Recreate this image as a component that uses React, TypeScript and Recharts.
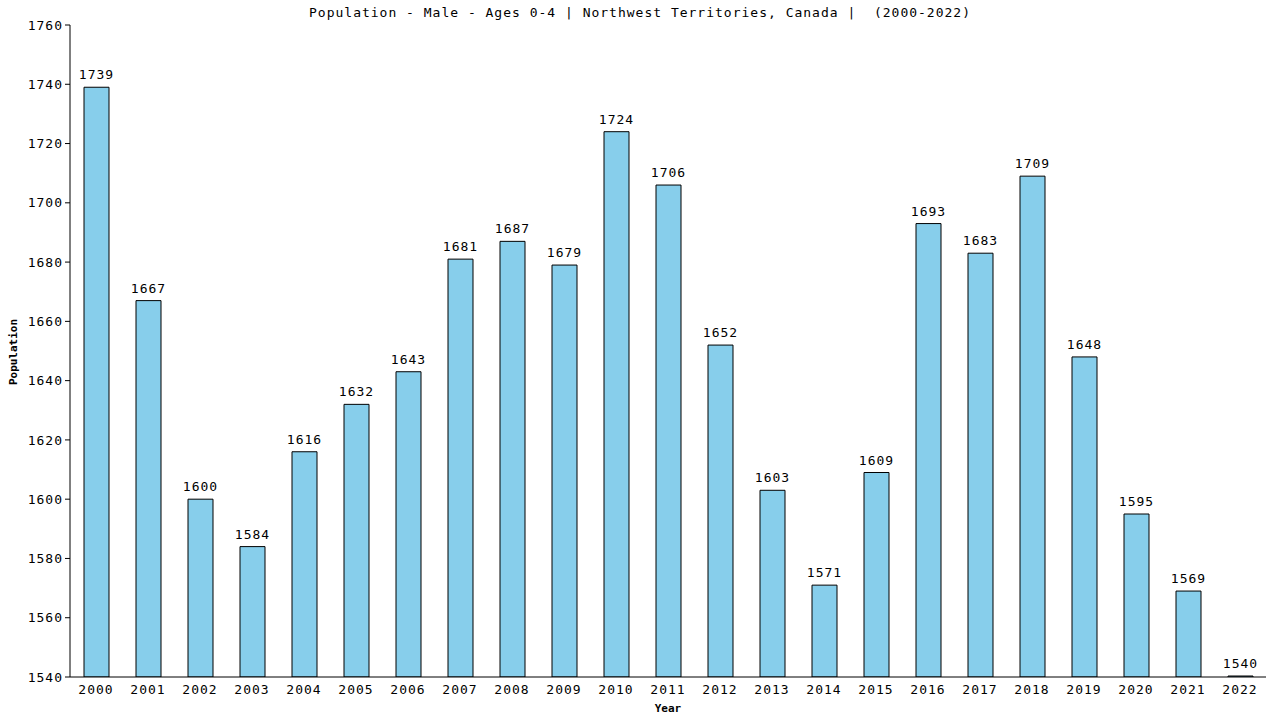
import React from "react";
import {
  BarChart,
  Bar,
  XAxis,
  YAxis,
  LabelList,
} from "recharts";

const YEARS = [
  "2000", "2001", "2002", "2003", "2004", "2005", "2006", "2007", "2008", "2009", "2010", "2011",
  "2012", "2013", "2014", "2015", "2016", "2017", "2018", "2019", "2020", "2021", "2022",
];

const POPULATION = [
  1739, 1667, 1600, 1584, 1616, 1632, 1643, 1681, 1687, 1679, 1724, 1706,
  1652, 1603, 1571, 1609, 1693, 1683, 1709, 1648, 1595, 1569, 1540,
];

const Y_TICKS = [1540, 1560, 1580, 1600, 1620, 1640, 1660, 1680, 1700, 1720, 1740, 1760];

const FONT = "'DejaVu Sans Mono', monospace";

export default function App() {
  const data = YEARS.map((year, i) => ({ year, value: POPULATION[i] }));

  return (
    <div
      style={{
        position: "absolute",
        top: 0,
        left: 0,
        width: 1280,
        height: 720,
        background: "#fff",
        fontFamily: FONT,
      }}
    >
      <div
        style={{
          position: "absolute",
          top: 5,
          left: 0,
          width: 1280,
          textAlign: "center",
          fontSize: 13,
          letterSpacing: 1,
          whiteSpace: "pre",
        }}
      >
        {"Population - Male - Ages 0-4 | Northwest Territories, Canada |  (2000-2022)"}
      </div>
      <div
        style={{
          position: "absolute",
          left: 13,
          top: 352,
          transform: "translate(-50%, -50%) rotate(-90deg)",
          fontSize: 11,
          fontWeight: "bold",
        }}
      >
        Population
      </div>
      <div
        style={{
          position: "absolute",
          top: 702,
          left: 0,
          width: 1336,
          textAlign: "center",
          fontSize: 11,
          fontWeight: "bold",
        }}
      >
        Year
      </div>
      <BarChart
        width={1280}
        height={720}
        data={data}
        margin={{ top: 25, right: 14, left: 8, bottom: 13 }}
        style={{ position: "absolute", top: 0, left: 0 }}
      >
        <XAxis
          dataKey="year"
          tickLine={false}
          axisLine={{ stroke: "#000" }}
          height={30}
          tick={{ fill: "#000", fontSize: 13, fontFamily: FONT, letterSpacing: 1 }}
          interval={0}
        />
        <YAxis
          domain={[1540, 1760]}
          ticks={Y_TICKS}
          allowDataOverflow
          width={62}
          tickSize={5}
          tickLine={{ stroke: "#000" }}
          axisLine={{ stroke: "#000" }}
          tick={{ fill: "#000", fontSize: 13, fontFamily: FONT, letterSpacing: 1 }}
        />
        <YAxis
          yAxisId="right"
          orientation="right"
          domain={[1540, 1760]}
          width={0}
          tick={false}
          tickLine={false}
          axisLine={{ stroke: "#000" }}
        />
        <Bar
          dataKey="value"
          fill="#87CEEB"
          stroke="#000"
          strokeWidth={1}
          barSize={25}
          minPointSize={1}
          isAnimationActive={false}
        >
          <LabelList
            dataKey="value"
            position="top"
            offset={8}
            fill="#000"
            fontSize={13}
            fontFamily={FONT}
            letterSpacing={1}
          />
        </Bar>
      </BarChart>
    </div>
  );
}
